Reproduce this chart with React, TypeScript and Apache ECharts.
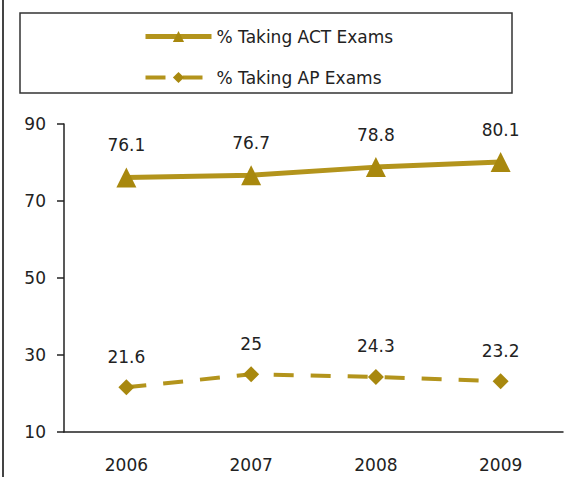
import React, { useEffect, useRef } from "react";
import * as echarts from "echarts";

const years = ["2006", "2007", "2008", "2009"];
const actValues = [76.1, 76.7, 78.8, 80.1];
const apValues = [21.6, 25, 24.3, 23.2];
const actName = "% Taking ACT Exams";
const apName = "% Taking AP Exams";

const lineColor = "#B3941C";
const markerColor = "#A8880E";
const font = "'DejaVu Sans', 'Liberation Sans', Arial, sans-serif";

export default function App() {
  const ref = useRef<HTMLDivElement>(null);
  useEffect(() => {
    const chart = echarts.init(ref.current!, null, { renderer: "svg" });
    chart.setOption({
      animation: false,
      backgroundColor: "#ffffff",
      textStyle: { fontFamily: font },
      graphic: [
        {
          type: "rect",
          shape: { x: 20, y: 13, width: 492, height: 80 },
          style: { fill: "none", stroke: "#333", lineWidth: 1.5 },
          z: 0,
        },
        {
          type: "line",
          shape: { x1: 3, y1: 0, x2: 3, y2: 477 },
          style: { stroke: "#444", lineWidth: 2 },
        },
      ],
      legend: {
        orient: "vertical",
        left: 138,
        top: 23,
        itemWidth: 66,
        itemHeight: 14,
        itemGap: 24,
        textStyle: { fontSize: 17, color: "#222", fontFamily: font },
        data: [
          { name: actName, lineStyle: { width: 5 } },
          { name: apName, lineStyle: { width: 4 } },
        ],
      },
      grid: { left: 64, right: 6, top: 124, bottom: 45 },
      xAxis: {
        type: "category",
        data: years,
        boundaryGap: true,
        axisLine: { lineStyle: { color: "#222", width: 1.5 } },
        axisTick: { length: 7, lineStyle: { color: "#222", width: 1.5 } },
        axisLabel: { margin: 24, fontSize: 17, color: "#222", fontFamily: font },
      },
      yAxis: {
        type: "value",
        min: 10,
        max: 90,
        interval: 20,
        axisLine: { show: true, lineStyle: { color: "#222", width: 1.5 } },
        axisTick: { show: true, length: 7, lineStyle: { color: "#222", width: 1.5 } },
        axisLabel: { margin: 18, fontSize: 17, color: "#222", fontFamily: font },
        splitLine: { show: false },
      },
      series: [
        {
          name: actName,
          type: "line",
          data: actValues,
          symbol: "triangle",
          symbolSize: 20,
          lineStyle: { color: lineColor, width: 5 },
          itemStyle: { color: markerColor },
          label: {
            show: true,
            position: "top",
            distance: 14,
            fontSize: 17,
            color: "#222",
            fontFamily: font,
          },
        },
        {
          name: apName,
          type: "line",
          data: apValues,
          symbol: "diamond",
          symbolSize: 16,
          lineStyle: { color: lineColor, width: 4, type: [20, 17] },
          itemStyle: { color: markerColor },
          label: {
            show: true,
            position: "top",
            distance: 14,
            fontSize: 17,
            color: "#222",
            fontFamily: font,
          },
        },
      ],
    });
    return () => chart.dispose();
  }, []);
  return <div ref={ref} style={{ width: 569, height: 477, position: "absolute", left: 0, top: 0 }} />;
}
